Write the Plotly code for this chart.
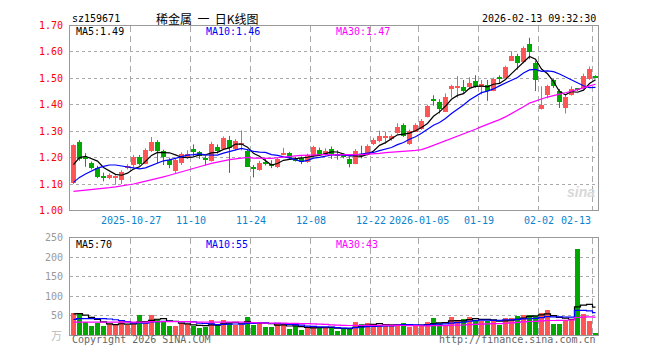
import plotly.graph_objects as go

# ---------------- data ----------------
opens = [1.104, 1.261, 1.203, 1.181, 1.161, 1.129, 1.124, 1.125, 1.118, 1.161,
         1.175, 1.203, 1.179, 1.227, 1.260, 1.225, 1.193, 1.152, 1.182, 1.203,
         1.236, 1.221, 1.199, 1.188, 1.242, 1.233, 1.270, 1.233, 1.250, 1.227,
         1.167, 1.155, 1.186, 1.178, 1.167, 1.215, 1.218, 1.197, 1.200, 1.185,
         1.207, 1.230, 1.213, 1.233, 1.213, 1.211, 1.197, 1.179, 1.215, 1.213,
         1.252, 1.264, 1.276, 1.272, 1.294, 1.324, 1.252, 1.300, 1.309, 1.355,
         1.424, 1.413, 1.375, 1.460, 1.468, 1.470, 1.470, 1.491, 1.470, 1.476,
         1.455, 1.503, 1.503, 1.569, 1.585, 1.564, 1.633, 1.561, 1.385, 1.439,
         1.494, 1.452, 1.388, 1.440, 1.461, 1.467, 1.500, 1.507]
highs = [1.250, 1.266, 1.217, 1.185, 1.169, 1.143, 1.140, 1.133, 1.152, 1.175,
         1.210, 1.210, 1.235, 1.278, 1.266, 1.230, 1.200, 1.198, 1.220, 1.228,
         1.250, 1.225, 1.206, 1.260, 1.250, 1.280, 1.282, 1.270, 1.303, 1.233,
         1.172, 1.188, 1.195, 1.190, 1.200, 1.237, 1.222, 1.203, 1.205, 1.215,
         1.245, 1.238, 1.235, 1.242, 1.228, 1.215, 1.203, 1.232, 1.245, 1.250,
         1.275, 1.302, 1.298, 1.288, 1.330, 1.330, 1.306, 1.330, 1.346, 1.400,
         1.436, 1.421, 1.443, 1.476, 1.509, 1.494, 1.504, 1.512, 1.494, 1.494,
         1.503, 1.512, 1.548, 1.603, 1.593, 1.621, 1.654, 1.567, 1.470, 1.476,
         1.500, 1.460, 1.439, 1.470, 1.464, 1.518, 1.545, 1.512]
lows = [1.100, 1.188, 1.165, 1.155, 1.122, 1.110, 1.118, 1.097, 1.100, 1.155,
        1.162, 1.170, 1.175, 1.221, 1.179, 1.172, 1.160, 1.142, 1.172, 1.195,
        1.205, 1.195, 1.170, 1.185, 1.215, 1.230, 1.142, 1.228, 1.227, 1.165,
        1.125, 1.150, 1.170, 1.160, 1.160, 1.209, 1.195, 1.185, 1.175, 1.180,
        1.200, 1.208, 1.208, 1.195, 1.192, 1.197, 1.163, 1.175, 1.197, 1.208,
        1.247, 1.258, 1.252, 1.264, 1.290, 1.278, 1.248, 1.297, 1.305, 1.352,
        1.397, 1.367, 1.373, 1.427, 1.427, 1.445, 1.458, 1.464, 1.439, 1.415,
        1.452, 1.482, 1.500, 1.567, 1.533, 1.557, 1.573, 1.452, 1.382, 1.424,
        1.464, 1.388, 1.367, 1.435, 1.452, 1.458, 1.494, 1.500]
closes = [1.248, 1.197, 1.195, 1.164, 1.130, 1.126, 1.136, 1.127, 1.147, 1.169,
          1.203, 1.179, 1.230, 1.260, 1.225, 1.203, 1.173, 1.191, 1.215, 1.215,
          1.221, 1.209, 1.191, 1.254, 1.225, 1.276, 1.237, 1.264, 1.254, 1.167,
          1.158, 1.183, 1.180, 1.170, 1.197, 1.218, 1.200, 1.192, 1.185, 1.212,
          1.240, 1.213, 1.225, 1.217, 1.211, 1.203, 1.176, 1.227, 1.208, 1.245,
          1.270, 1.282, 1.279, 1.282, 1.318, 1.282, 1.302, 1.324, 1.342, 1.397,
          1.418, 1.385, 1.433, 1.472, 1.470, 1.452, 1.485, 1.470, 1.479, 1.455,
          1.500, 1.501, 1.545, 1.588, 1.561, 1.618, 1.603, 1.494, 1.400, 1.472,
          1.472, 1.412, 1.433, 1.462, 1.459, 1.512, 1.536, 1.505]
volumes = [57, 55, 34, 24, 31, 24, 28, 26, 35, 26,
           28, 51, 32, 51, 40, 35, 24, 24, 30, 28,
           24, 18, 20, 39, 25, 39, 33, 25, 28, 46,
           26, 30, 21, 21, 29, 28, 16, 22, 12, 20,
           20, 20, 20, 17, 11, 17, 17, 34, 28, 30,
           27, 27, 22, 22, 28, 30, 20, 24, 24, 34,
           44, 30, 26, 46, 37, 41, 46, 39, 36, 37,
           37, 27, 44, 44, 50, 51, 51, 49, 56, 64,
           29, 29, 39, 41, 222, 54, 37, 4]

# moving-average values at the start of the window
# (they depend on sessions before the first visible candle)
ma5_lead = [1.173, 1.200, 1.205, 1.195]
ma10_lead = [1.106, 1.125, 1.138, 1.150, 1.160, 1.167, 1.172, 1.172, 1.168]
ma30_lead = [1.072, 1.074, 1.076, 1.078, 1.080, 1.083, 1.086, 1.089, 1.092, 1.096,
             1.100, 1.105, 1.110, 1.115, 1.121, 1.127, 1.133, 1.140, 1.147, 1.153,
             1.160, 1.166, 1.172, 1.178, 1.183, 1.188, 1.192, 1.195, 1.198]
vma5_lead = [54, 55, 51, 45]
vma10_lead = [40, 42, 42, 42, 42, 42, 41, 39, 37]
vma30_lead = [33, 33, 33, 33, 33, 33, 33, 33, 33, 33,
              33, 33, 33, 34, 34, 34, 34, 34, 34, 34,
              33, 33, 33, 33, 33, 33, 33, 33, 33]

date_labels = ["2025-10-27", "11-10", "11-24", "12-08", "12-22",
               "2026-01-05", "01-19", "02-02", "02-13"]
date_index = [10, 20, 30, 40, 50, 58, 68, 78, 87]
price_ticks = [1.00, 1.10, 1.20, 1.30, 1.40, 1.50, 1.60, 1.70]
vol_ticks = [50, 100, 150, 200, 250]

code = "sz159671"
title = "稀金属  一  日K线图"
stamp = "2026-02-13 09:32:30"
legend_price = ["MA5:1.49", "MA10:1.46", "MA30:1.47"]
legend_vol = ["MA5:70", "MA10:55", "MA30:43"]

# ---------------- geometry ----------------
# the page body keeps its default 8px margin, so the figure is drawn
# 8px in from the top-left corner of the 660x360 window
OX, OY = 8, 8
W, H = 644, 344
UP, DOWN = "#FF5555", "#00A800"
MA_COLORS = ["#000000", "#0000FF", "#FF00FF"]
MONO = "DejaVu Sans Mono"
n = len(closes)
X = list(range(n))


def ma(vals, k, lead):
    out = []
    for i in range(n):
        if i < k - 1:
            out.append(lead[i])
        else:
            out.append(sum(vals[i - k + 1:i + 1]) / k)
    return out


def pxx(x):
    return (x - OX) / W


def pxy(y):
    return 1 - (y - OY) / H


up = [c >= o for o, c in zip(opens, closes)]

fig = go.Figure()

# wicks
for flag, col in ((True, UP), (False, DOWN)):
    wx, wy = [], []
    for i in X:
        if up[i] == flag:
            wx += [i, i, None]
            wy += [lows[i], highs[i], None]
    fig.add_trace(go.Scatter(x=wx, y=wy, mode="lines", line=dict(color=col, width=1),
                             xaxis="x", yaxis="y", hoverinfo="skip"))

# bodies
for flag, col in ((True, UP), (False, DOWN)):
    bx, bb, bh = [], [], []
    for i in X:
        if up[i] == flag:
            lo, hi = min(opens[i], closes[i]), max(opens[i], closes[i])
            bx.append(i)
            bb.append(lo)
            bh.append(max(hi - lo, 0.0037))
    fig.add_trace(go.Bar(x=bx, y=bh, base=bb, marker=dict(color=col, line=dict(width=0)),
                         width=0.78, xaxis="x", yaxis="y"))

# price MAs
for k, lead, col in ((5, ma5_lead, MA_COLORS[0]), (10, ma10_lead, MA_COLORS[1]),
                     (30, ma30_lead, MA_COLORS[2])):
    fig.add_trace(go.Scatter(x=X, y=ma(closes, k, lead), mode="lines",
                             line=dict(color=col, width=1.2), xaxis="x", yaxis="y"))

# volume bars
fig.add_trace(go.Bar(x=X, y=volumes, width=0.84,
                     marker=dict(color=[UP if u else DOWN for u in up], line=dict(width=0)),
                     xaxis="x2", yaxis="y2"))
for k, lead, col in ((5, vma5_lead, MA_COLORS[0]), (10, vma10_lead, MA_COLORS[1]),
                     (30, vma30_lead, MA_COLORS[2])):
    fig.add_trace(go.Scatter(x=X, y=ma(volumes, k, lead), mode="lines",
                             line=dict(color=col, width=1.2, shape="hvh"),
                             xaxis="x2", yaxis="y2"))

xr = [-0.5 - 1 / 12, n - 0.5 - 1 / 12]
grid_x = [d - 0.5 for d in date_index]
xdom = [pxx(70), pxx(598)]
axis_common = dict(showline=True, mirror=True, linecolor="#999999", linewidth=1,
                   zeroline=False, fixedrange=True)

fig.update_layout(
    width=W, height=H, margin=dict(l=0, r=0, t=0, b=0), autosize=False,
    paper_bgcolor="white", plot_bgcolor="white", showlegend=False,
    bargap=0, barmode="overlay",
    font=dict(family=MONO, size=10, color="#000000"),
    xaxis=dict(domain=xdom, range=xr, anchor="y", tickvals=grid_x, showticklabels=False,
               showgrid=True, gridcolor="#AAAAAA", griddash="6px,4px", gridwidth=1,
               ticks="", **axis_common),
    yaxis=dict(domain=[pxy(211.5), pxy(20)], range=[1.0, 1.7], anchor="x",
               tickvals=price_ticks, ticktext=["%.2f" % v for v in price_ticks],
               tickfont=dict(family=MONO, size=10, color="#FF0000"),
               showgrid=True, gridcolor="#AAAAAA", griddash="dot", gridwidth=1,
               ticks="", ticklabelstandoff=4, **axis_common),
    xaxis2=dict(domain=xdom, range=xr, anchor="y2", tickvals=grid_x, showticklabels=False,
                showgrid=True, gridcolor="#AAAAAA", griddash="6px,4px", gridwidth=1,
                ticks="", **axis_common),
    yaxis2=dict(domain=[pxy(340.5), pxy(240)], range=[0, 250], anchor="x2",
                tickvals=vol_ticks, ticktext=[str(v) for v in vol_ticks],
                tickfont=dict(family=MONO, size=10, color="#999999"),
                showgrid=True, gridcolor="#AAAAAA", griddash="dot", gridwidth=1,
                ticks="", ticklabelstandoff=4, **axis_common),
)

ann = []


def text(x, y, s, color="#000000", anchor="left", size=10, family=MONO, **kw):
    ann.append(dict(x=pxx(x), y=pxy(y), xref="paper", yref="paper", text=s,
                    showarrow=False, xanchor=anchor, yanchor="middle",
                    font=dict(family=family, size=size, color=color), **kw))


text(70, 13, code)
text(207, 12.5, title, anchor="center", size=12, family="Noto Sans CJK SC")
text(598, 13, stamp, anchor="right")
for s, x, c in zip(legend_price, (74, 204, 334), MA_COLORS):
    text(x, 26.5, s, color=c)
for s, x, c in zip(legend_vol, (74, 204, 334), MA_COLORS):
    text(x, 246.5, s, color=c)
text(70, 345.5, "Copyright 2026 SINA.COM", color="#666666")
text(598, 345.5, "http://finance.sina.com.cn", color="#666666", anchor="right")
text(56, 341, "万", color="#BBBBBB", anchor="center", size=11, family="Noto Sans CJK SC")
text(581, 192, "<b><i>sina</i></b>", color="#D8D8D8", anchor="center", size=14,
     family="Liberation Sans")

for lab, d in zip(date_labels, date_index):
    last = d == date_index[-1]
    ann.append(dict(x=d - 0.5, y=pxy(222), xref="x", yref="paper", text=lab,
                    showarrow=False, xanchor="right" if last else "center",
                    yanchor="middle", font=dict(family=MONO, size=10, color="#0A84CE")))

fig.update_layout(annotations=ann)
fig.write_html("out.html")
